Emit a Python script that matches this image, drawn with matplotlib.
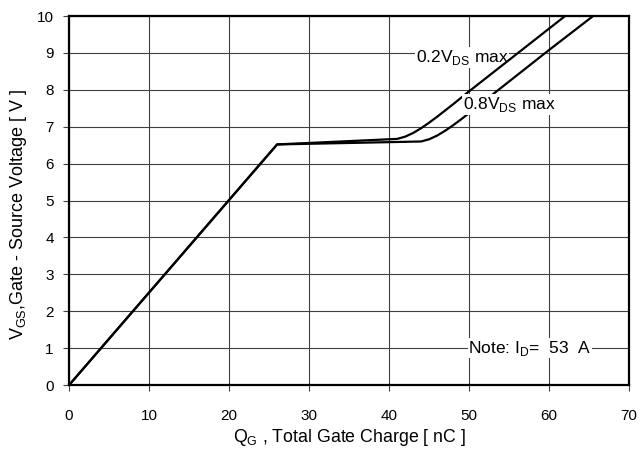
import matplotlib
matplotlib.use("Agg")
from matplotlib import pyplot as plt

plt.rcParams['font.family'] = ['Liberation Sans', 'DejaVu Sans']

# gate charge curves
qg_02 = [0, 26, 41, 42, 43, 44, 45, 46, 47, 48, 50, 55, 62]
vgs_02 = [0, 6.52, 6.67, 6.73, 6.83, 6.96, 7.11, 7.27, 7.44, 7.61, 7.96, 8.81, 10.0]
qg_08 = [0, 26, 44, 45, 46, 47, 48, 49, 50, 53.5, 59.7, 65.5]
vgs_08 = [0, 6.52, 6.6, 6.66, 6.76, 6.89, 7.04, 7.2, 7.37, 7.97, 9.03, 10.0]

x_ticks = [0, 10, 20, 30, 40, 50, 60, 70]
y_ticks = [0, 1, 2, 3, 4, 5, 6, 7, 8, 9, 10]

fig = plt.figure(figsize=(6.4, 4.5), dpi=100)
ax = fig.add_axes([0.108, 0.1444, 0.875, 0.82])

ax.plot(qg_02, vgs_02, color='black', lw=1.6, solid_joinstyle='round', zorder=2)
ax.plot(qg_08, vgs_08, color='black', lw=1.6, solid_joinstyle='round', zorder=2)

ax.set_xlim(0, 70)
ax.set_ylim(0, 10)
ax.set_xticks(x_ticks)
ax.set_yticks(y_ticks)
ax.grid(True, color='#404040', lw=0.8)
ax.set_axisbelow(True)
ax.tick_params(labelsize=11, length=4, width=0.8, color='#404040')
ax.tick_params(axis='x', pad=13)
ax.tick_params(axis='y', pad=7)
for s in ax.spines.values():
    s.set_linewidth(1.6)

# white boxes break the grid lines behind the labels
ax.text(43.3, 8.88, r'0.2V$_{\mathregular{DS}}$ max', fontsize=12.5, va='center', zorder=1.5,
        bbox=dict(facecolor='white', edgecolor='none', pad=0.5))
ax.text(49.2, 7.6, r'0.8V$_{\mathregular{DS}}$ max', fontsize=12.5, va='center', zorder=3,
        bbox=dict(facecolor='white', edgecolor='none', pad=0.5))
ax.text(49.9, 1.0, r'Note: I$_{\mathregular{D}}$=  53  A', fontsize=12.5, va='center', zorder=3,
        bbox=dict(facecolor='white', edgecolor='none', pad=0.5))

ax.set_xlabel(r'Q$_{\mathregular{G}}$ , Total Gate Charge [ nC ]', fontsize=12.8, labelpad=3)
ax.set_ylabel(r'V$_{\mathregular{GS}}$,Gate - Source Voltage [ V ]', fontsize=13)
ax.yaxis.set_label_coords(-0.071, 0.463)

fig.savefig('out.png', dpi=100)
